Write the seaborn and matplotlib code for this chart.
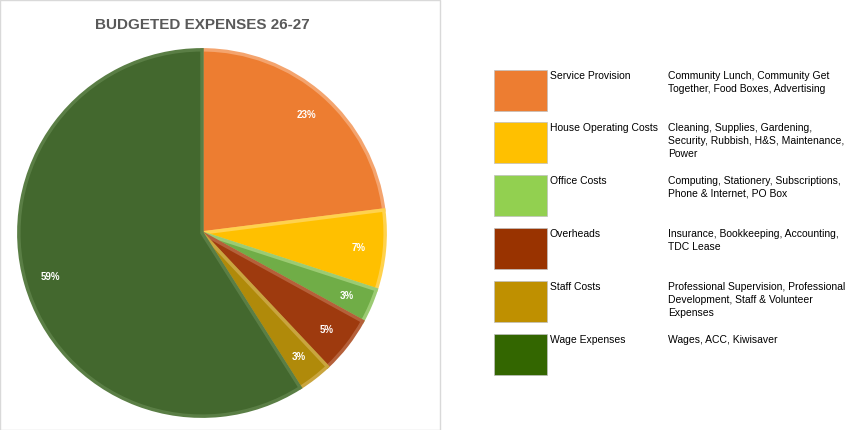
import matplotlib.pyplot as plt
import matplotlib.patches as mpatches
import seaborn as sns

sns.set_theme(style="white")
plt.rcParams['font.family'] = ['Liberation Sans', 'DejaVu Sans']

categories = ['Service Provision', 'House Operating Costs', 'Office Costs',
              'Overheads', 'Staff Costs', 'Wage Expenses']
shares = [23, 7, 3, 5, 3, 59]
descriptions = ['Community Lunch, Community Get\nTogether, Food Boxes, Advertising',
                'Cleaning, Supplies, Gardening,\nSecurity, Rubbish, H&S, Maintenance,\nPower',
                'Computing, Stationery, Subscriptions,\nPhone & Internet, PO Box',
                'Insurance, Bookkeeping, Accounting,\nTDC Lease',
                'Professional Supervision, Professional\nDevelopment, Staff & Volunteer\nExpenses',
                'Wages, ACC, Kiwisaver']
pie_colors = ['#ED7D31', '#FFC000', '#70AD47', '#9E3A0E', '#B08A0A', '#43682E']
edge_colors = ['#F4A46E', '#FFD24D', '#9BCB73', '#B5603A', '#C9A53E', '#5A7E45']
legend_colors = ['#ED7D31', '#FFC000', '#92D050', '#993300', '#BF9000', '#336600']

fig = plt.figure(figsize=(8.57, 4.30), dpi=100)
fig.patch.set_facecolor('white')

frame = mpatches.Rectangle((0.0, 0.0), 440 / 857, 1.0, transform=fig.transFigure,
                           fill=False, edgecolor='#D9D9D9', linewidth=1)
fig.patches.append(frame)
fig.text(202 / 857, 1 - 25 / 430, 'BUDGETED EXPENSES 26-27', ha='center', va='center',
         fontsize=11, fontweight='bold', color='#595959')

ax = fig.add_axes([17 / 857, 12 / 430, 370 / 857, 370 / 430])
wedges, texts, autotexts = ax.pie(shares, colors=pie_colors, startangle=90, counterclock=False,
                                  autopct=lambda p: f'{round(p)}%', pctdistance=0.86,
                                  wedgeprops=dict(linewidth=2.5))
for w, ec in zip(wedges, edge_colors):
    w.set_edgecolor(ec)
for t in autotexts:
    t.set_color('white')
    t.set_fontsize(7)
    t.set_fontweight('bold')
ax.set_xlim(-1.01, 1.01)
ax.set_ylim(-1.01, 1.01)
ax.set_aspect('equal')
ax.axis('off')

tops = [70, 122, 175, 228, 281, 334]
for top, name, desc, col in zip(tops, categories, descriptions, legend_colors):
    fig.patches.append(mpatches.Rectangle((494 / 857, 1 - (top + 41) / 430), 53 / 857, 41 / 430,
                                          transform=fig.transFigure, facecolor=col,
                                          edgecolor='#BFBFBF', linewidth=0.5))
    fig.text(550 / 857, 1 - (top + 1) / 430, name, ha='left', va='top', fontsize=7.5, color='black')
    fig.text(668 / 857, 1 - (top + 1) / 430, desc, ha='left', va='top', fontsize=7.5,
             color='black', linespacing=1.35)

fig.savefig('out.png', dpi=100)
